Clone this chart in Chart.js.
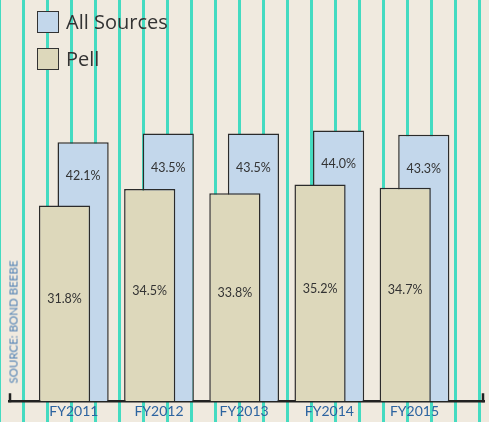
<!DOCTYPE html>
<html>
<head>
<meta charset="utf-8">
<script src="https://cdn.jsdelivr.net/npm/chart.js@4/dist/chart.umd.min.js"></script>
<style>
  body { margin: 0; }
  .wrap {
    position: relative;
    width: 489px;
    height: 422px;
    background-color: #f0eadf;
    background-image: linear-gradient(90deg, #44dbc1 0px, #44dbc1 3px, transparent 3px, transparent 24px);
    background-size: 24px 100%;
    background-position: 22px 0;
    overflow: hidden;
  }
  canvas { position: absolute; left: 0; top: 0; }
  .legend { position: absolute; left: 37px; top: 10px; font-family: 'Open Sans', sans-serif; font-size: 20px; color: #333; }
  .legend-item { display: flex; align-items: center; height: 23px; margin-bottom: 14px; }
  .legend-box { width: 20px; height: 20px; border: 1.5px solid #333; margin-right: 7px; }
  .source {
    position: absolute; left: 13px; top: 322px;
    transform: translate(-50%, -50%) rotate(-90deg);
    font-family: 'Lato', sans-serif; font-size: 11.5px; color: #4f80b4;
    white-space: nowrap;
  }
</style>
</head>
<body>
<div class="wrap">
  <canvas id="chart" width="489" height="422"></canvas>
  <div class="legend">
    <div class="legend-item"><div class="legend-box" style="background:#c3d7eb"></div>All Sources</div>
    <div class="legend-item"><div class="legend-box" style="background:#ddd8bb"></div>Pell</div>
  </div>
  <div class="source">SOURCE: BOND BEEBE</div>
</div>
<script>
const years = ['FY2011', 'FY2012', 'FY2013', 'FY2014', 'FY2015'];
const allSources = [42.1, 43.5, 43.5, 44.0, 43.3];
const pell = [31.8, 34.5, 33.8, 35.2, 34.7];

const toPoints = vals => vals.map((v, i) => ({ x: i, y: v }));

// labels inside the bars
const barLabels = {
    id: 'barLabels',
    afterDatasetsDraw(chart) {
        const ctx = chart.ctx;
        ctx.save();
        ctx.font = '12.5px Lato, sans-serif';
        ctx.fillStyle = '#333';
        ctx.textAlign = 'center';
        ctx.textBaseline = 'middle';
        chart.data.datasets.forEach((ds, di) => {
            const meta = chart.getDatasetMeta(di);
            meta.data.forEach((bar, i) => {
                const text = ds.data[i].y.toFixed(1) + '%';
                const y = ds.label === 'Pell' ? (bar.y + bar.base) / 2 - 4 : bar.y + 34;
                ctx.fillText(text, bar.x, y);
            });
        });
        ctx.restore();
    }
};

// small upright ticks at both ends of the baseline
const axisEnds = {
    id: 'axisEnds',
    afterDraw(chart) {
        const x = chart.scales.x;
        const ctx = chart.ctx;
        ctx.save();
        ctx.strokeStyle = '#222';
        ctx.lineWidth = 2.5;
        ctx.beginPath();
        ctx.moveTo(x.left + 1, x.top + 1);
        ctx.lineTo(x.left + 1, x.top - 8);
        ctx.moveTo(x.right - 1, x.top + 1);
        ctx.lineTo(x.right - 1, x.top - 8);
        ctx.stroke();
        ctx.restore();
    }
};

new Chart(document.getElementById('chart'), {
    type: 'bar',
    data: {
        datasets: [{
            label: 'Pell',
            data: toPoints(pell),
            backgroundColor: '#ddd8bb',
            borderColor: '#2b2b2b',
            borderWidth: 1.5
        }, {
            label: 'All Sources',
            data: toPoints(allSources),
            backgroundColor: '#c3d7eb',
            borderColor: '#2b2b2b',
            borderWidth: 1.5
        }]
    },
    options: {
        responsive: false,
        animation: false,
        devicePixelRatio: 1,
        categoryPercentage: 0.436,
        barPercentage: 2.757,
        layout: { padding: { left: 9, right: 5, top: 0, bottom: 0 } },
        plugins: { legend: { display: false }, tooltip: { enabled: false } },
        scales: {
            x: {
                type: 'linear',
                offset: false,
                min: -0.761,
                max: 4.816,
                grid: { display: false, drawTicks: false },
                border: { display: true, color: '#222', width: 2.5 },
                afterBuildTicks: scale => { scale.ticks = years.map((_, i) => ({ value: i })); },
                ticks: {
                    autoSkip: false,
                    maxRotation: 0,
                    padding: 2,
                    color: '#2d64a0',
                    font: { family: 'Lato', size: 14 },
                    callback: v => years[v]
                }
            },
            y: {
                display: false,
                min: 0,
                max: 65.2
            }
        }
    },
    plugins: [barLabels, axisEnds]
});
</script>
</body>
</html>
